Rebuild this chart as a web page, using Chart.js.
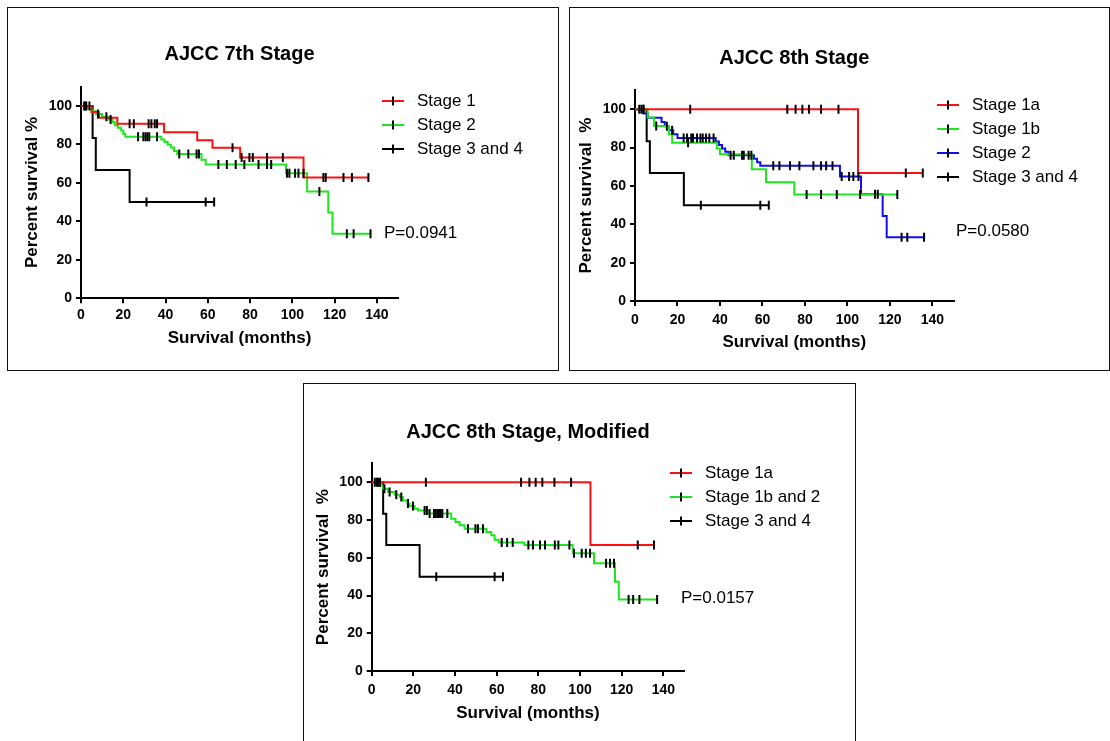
<!DOCTYPE html>
<html>
<head>
<meta charset="utf-8">
<script src="https://cdn.jsdelivr.net/npm/chart.js@4.4.1/dist/chart.umd.min.js"></script>
<style>
  html, body { margin: 0; padding: 0; background: #fff; }
  body { width: 1110px; height: 741px; position: relative; overflow: hidden; }
  .panel { position: absolute; }
  .panel canvas { position: absolute; left: 0; top: 0; }
  .frame { position: absolute; left: 0; top: 0; right: 0; bottom: 0; border: 1.5px solid #111; box-sizing: border-box; pointer-events: none; }
</style>
</head>
<body>
<div class="panel" style="left:7px;top:7px;width:552px;height:364px">
  <canvas id="c1" width="552" height="364" style="width:552px;height:364px"></canvas><div class="frame"></div>
</div>
<div class="panel" style="left:569px;top:7px;width:541px;height:364px">
  <canvas id="c2" width="541" height="364" style="width:541px;height:364px"></canvas><div class="frame"></div>
</div>
<div class="panel" style="left:303px;top:383px;width:553px;height:370px">
  <canvas id="c3" width="553" height="370" style="width:553px;height:370px"></canvas><div class="frame"></div>
</div>
<script>
    // ---- panel 1: AJCC 7th Stage ----
    const p1Title = 'AJCC 7th Stage';
    const p1Labels = ['Stage 1', 'Stage 2', 'Stage 3 and 4'];
    const p1PValue = 'P=0.0941';
    const p1S1Time = [0, 5, 8.5, 17.2, 39.3, 55, 62.2, 75.3, 105.3, 136];
    const p1S1Surv = [100, 96.9, 93.8, 90.8, 86.3, 82.2, 78.2, 73.2, 62.8, 62.8];
    const p1S1Cens = [2, 23, 25, 32, 33.3, 34.9, 36, 71.7, 76, 79.7, 81.3, 88, 95.5, 114.7, 115.8, 124.2, 128.2, 136];
    const p1S2Time = [0, 3, 5, 7, 10, 13, 15, 16, 17.5, 19, 20, 21, 38, 39.5, 41, 42.5, 44, 45.5, 57, 59, 97, 107, 117, 119, 137];
    const p1S2Surv = [100, 98.6, 97.2, 95.8, 94.4, 93, 91.5, 90, 88.6, 87.2, 85.6, 84, 82.6, 81.2, 79.8, 78.4, 76.6, 75, 72, 69.5, 65, 55.5, 44.6, 33.5, 33.5];
    const p1S2Cens = [1.5, 2.5, 8, 12, 14, 27, 29.5, 30.5, 31.4, 32.3, 36, 46.5, 50.8, 54.7, 55.8, 65, 69, 73.2, 77.3, 84, 88, 90, 97.5, 98.6, 101.3, 102.9, 105.3, 112.8, 125.8, 129, 137];
    const p1S34Time = [0, 5.5, 7, 23, 63];
    const p1S34Surv = [100, 83.3, 66.7, 50, 50];
    const p1S34Cens = [4, 31, 59, 63];

    // ---- panel 2: AJCC 8th Stage ----
    const p2Title = 'AJCC 8th Stage';
    const p2Labels = ['Stage 1a', 'Stage 1b', 'Stage 2', 'Stage 3 and 4'];
    const p2PValue = 'P=0.0580';
    const p2S1aTime = [0, 105, 135.5];
    const p2S1aSurv = [100, 66.7, 66.7];
    const p2S1aCens = [4, 26, 71.7, 75.6, 78.8, 81.9, 87.6, 95.8, 127.5, 135.5];
    const p2S1bTime = [0, 6, 9, 16, 17.5, 38.5, 40, 55, 61.7, 75, 123.5];
    const p2S1bSurv = [100, 95.7, 91.3, 87, 82.6, 79.5, 76.5, 68.7, 62, 55.6, 55.6];
    const p2S1bCens = [10, 25, 80.8, 87.6, 95, 106, 123.5];
    const p2S2Time = [0, 4, 6, 12.5, 14, 16, 18, 20, 38, 39.5, 41, 42.5, 44, 56, 57.5, 59, 96.5, 106.4, 116.6, 118.5, 136.1];
    const p2S2Surv = [100, 97.8, 95.6, 93.4, 91.2, 89, 87, 85, 83.2, 81.4, 79.6, 77.8, 76, 74.2, 72.4, 70.6, 64.9, 55.7, 44.3, 33.2, 33.2];
    const p2S2Cens = [2, 3, 15, 17.5, 22.9, 24.5, 26.5, 27.3, 29.2, 30.8, 31.9, 33.4, 35, 37, 45, 46.5, 50.4, 51.2, 53.5, 54.8,
        65.1, 68, 73, 77.4, 84, 87.6, 90, 93, 97.3, 100.8, 102.8, 105.2, 113, 114.3, 125.5, 128.2, 136.1];
    const p2S34Time = [0, 5.5, 7, 23, 63];
    const p2S34Surv = [100, 83.3, 66.7, 50, 50];
    const p2S34Cens = [4, 31, 59, 63];

    // ---- panel 3: AJCC 8th Stage, Modified ----
    const p3Title = 'AJCC 8th Stage, Modified';
    const p3Labels = ['Stage 1a', 'Stage 1b and 2', 'Stage 3 and 4'];
    const p3PValue = 'P=0.0157';
    const p3S1aTime = [0, 105, 136];
    const p3S1aSurv = [100, 66.7, 66.7];
    const p3S1aCens = [3, 26, 71.7, 75.7, 78.7, 81.9, 87.7, 95.7, 127.7, 135.5];
    const p3S1b2Time = [0, 3, 5.4, 7.8, 11, 13.4, 15, 17.1, 18.2, 20.6, 22.2, 27, 38.2, 40.2, 42.2, 44.6, 55, 57.4, 59, 61, 73.3, 96.5, 106.7, 116.8, 118.6, 137];
    const p3S1b2Surv = [100, 98.3, 96.6, 94.9, 93.4, 92.2, 90.4, 88.7, 87.4, 86, 85.1, 83.4, 80.7, 79, 77.2, 75.4, 73.6, 71.9, 69.6, 68.1, 66.8, 62.4, 57.1, 47.3, 37.9, 37.9];
    const p3S1b2Cens = [1.5, 2.5, 6.1, 8.6, 11.8, 14.2, 17.4, 19.8, 25.4, 26.5, 27.8, 29.9, 30.7, 31.5, 32.3, 33.1, 33.9, 36.3,
        46.2, 49.8, 51, 53.4, 62.4, 65, 67.7, 75.2, 77.4, 80.8, 83.2, 87.9, 89.6, 94.9, 97.1, 100.8, 102.8, 104.8,
        112.5, 114.4, 116.3, 123.3, 125.5, 128.5, 137];
    const p3S34Time = [0, 5.5, 7, 23, 63];
    const p3S34Surv = [100, 83.3, 66.7, 50, 50];
    const p3S34Cens = [4, 31, 59, 63];

    const xTicks = { min: 0, max: 150, step: 20 };
    const yTicks = { min: 0, max: 110, step: 20 };

    const RED = '#ff1010';
    const GREEN = '#1ee61e';
    const BLUE = '#1010ee';
    const BLACK = '#000000';
    const FONT = '"Liberation Sans", Arial, sans-serif';
    Chart.defaults.font.family = FONT;
    Chart.defaults.color = '#000';

    // survival value at time t (step function)
    function survAt(times, surv, t) {
        let v = surv[0];
        for (let i = 0; i < times.length; i++) {
            if (times[i] <= t) v = surv[i];
        }
        return v;
    }

    function buildDatasets(series) {
        const sets = [];
        series.forEach((s, i) => {
            sets.push({
                data: s.time.map((t, j) => ({ x: t, y: s.surv[j] })),
                borderColor: s.color,
                borderWidth: 2,
                stepped: true,
                pointRadius: 0,
                fill: false,
                order: 10 + i
            });
            // censor marks
            sets.push({
                data: s.cens.map(t => ({ x: t, y: survAt(s.time, s.surv, t) })),
                showLine: false,
                pointStyle: 'line',
                rotation: 90,
                pointRadius: 4.5,
                pointBorderWidth: 2,
                borderColor: BLACK,
                pointBorderColor: BLACK,
                order: 1
            });
        });
        return sets;
    }

    function kmChart(id, title, labels, pValue, series, geo) {
        const ctx = document.getElementById(id).getContext('2d');
        const legendPlugin = {
            id: 'kmLegend',
            afterDraw(chart) {
                const c = chart.ctx;
                c.save();
                c.font = '17px ' + FONT;
                c.textBaseline = 'middle';
                c.fillStyle = '#000';
                labels.forEach((lab, i) => {
                    const y = geo.legY + i * geo.legGap;
                    c.strokeStyle = series[i].color;
                    c.lineWidth = 2;
                    c.beginPath();
                    c.moveTo(geo.legX, y);
                    c.lineTo(geo.legX + 22, y);
                    c.stroke();
                    c.strokeStyle = BLACK;
                    c.lineWidth = 2;
                    c.beginPath();
                    c.moveTo(geo.legX + 11, y - 4.5);
                    c.lineTo(geo.legX + 11, y + 4.5);
                    c.stroke();
                    c.fillText(lab, geo.legX + 35, y);
                });
                c.fillText(pValue, geo.pX, geo.pY);
                c.restore();
            }
        };
        return new Chart(ctx, {
            type: 'line',
            data: { datasets: buildDatasets(series) },
            options: {
                responsive: false,
                animation: false,
                events: [],
                layout: { padding: { left: 0, top: 0, right: geo.padRight, bottom: geo.padBottom } },
                plugins: {
                    legend: { display: false },
                    tooltip: { enabled: false },
                    title: {
                        display: true,
                        text: title,
                        fullSize: false,
                        color: '#000',
                        font: { size: 20, weight: 'bold' },
                        padding: { top: geo.titlePadTop, bottom: geo.titlePadBottom }
                    }
                },
                scales: {
                    x: {
                        type: 'linear',
                        min: xTicks.min,
                        max: xTicks.max,
                        ticks: { stepSize: xTicks.step, includeBounds: false, color: '#000', font: { size: 14, weight: 'bold' }, padding: geo.xTickPad, maxRotation: 0 },
                        grid: { drawOnChartArea: false, drawTicks: true, tickLength: 5, color: '#000', lineWidth: 2 },
                        border: { color: '#000', width: 2 },
                        title: { display: true, text: 'Survival (months)', color: '#000', font: { size: 17, weight: 'bold' }, padding: { top: 0, bottom: geo.xTitlePad } },
                        afterFit: s => { s.height = 55; }
                    },
                    y: {
                        type: 'linear',
                        min: yTicks.min,
                        max: yTicks.max,
                        ticks: { stepSize: yTicks.step, includeBounds: false, color: '#000', font: { size: 14, weight: 'bold' }, padding: 4 },
                        grid: { drawOnChartArea: false, drawTicks: true, tickLength: 5, color: '#000', lineWidth: 2 },
                        border: { color: '#000', width: 2 },
                        title: { display: true, text: geo.yTitle, color: '#000', font: { size: 17, weight: 'bold' }, padding: { top: geo.yTitlePad, bottom: 0 } },
                        afterFit: s => { s.width = geo.yWidth; }
                    }
                }
            },
            plugins: [legendPlugin]
        });
    }

    kmChart('c1', p1Title, p1Labels, p1PValue, [
        { time: p1S1Time, surv: p1S1Surv, cens: p1S1Cens, color: RED },
        { time: p1S2Time, surv: p1S2Surv, cens: p1S2Cens, color: GREEN },
        { time: p1S34Time, surv: p1S34Surv, cens: p1S34Cens, color: BLACK }
    ], {
        yTitle: 'Percent survival %', yWidth: 74, yTitlePad: 14.8,
        titlePadTop: 35, titlePadBottom: 20.7, padRight: 161, padBottom: 17.7,
        xTickPad: 3.3, xTitlePad: 5.1,
        legX: 375, legY: 94, legGap: 24, pX: 377, pY: 226
    });

    kmChart('c2', p2Title, p2Labels, p2PValue, [
        { time: p2S1aTime, surv: p2S1aSurv, cens: p2S1aCens, color: RED },
        { time: p2S1bTime, surv: p2S1bSurv, cens: p2S1bCens, color: GREEN },
        { time: p2S2Time, surv: p2S2Surv, cens: p2S2Cens, color: BLUE },
        { time: p2S34Time, surv: p2S34Surv, cens: p2S34Cens, color: BLACK }
    ], {
        yTitle: 'Percent survival  %', yWidth: 66, yTitlePad: 6.8,
        titlePadTop: 39, titlePadBottom: 20.1, padRight: 156.4, padBottom: 15,
        xTickPad: 5.6, xTitlePad: 3.8,
        legX: 368, legY: 98, legGap: 24, pX: 387, pY: 224
    });

    kmChart('c3', p3Title, p3Labels, p3PValue, [
        { time: p3S1aTime, surv: p3S1aSurv, cens: p3S1aCens, color: RED },
        { time: p3S1b2Time, surv: p3S1b2Surv, cens: p3S1b2Cens, color: GREEN },
        { time: p3S34Time, surv: p3S34Surv, cens: p3S34Cens, color: BLACK }
    ], {
        yTitle: 'Percent survival  %', yWidth: 68.7, yTitlePad: 9.8,
        titlePadTop: 37, titlePadBottom: 19.4, padRight: 171.8, padBottom: 27,
        xTickPad: 5.6, xTitlePad: 2.8,
        legX: 367, legY: 90, legGap: 24, pX: 378, pY: 215
    });
</script>
</body>
</html>
